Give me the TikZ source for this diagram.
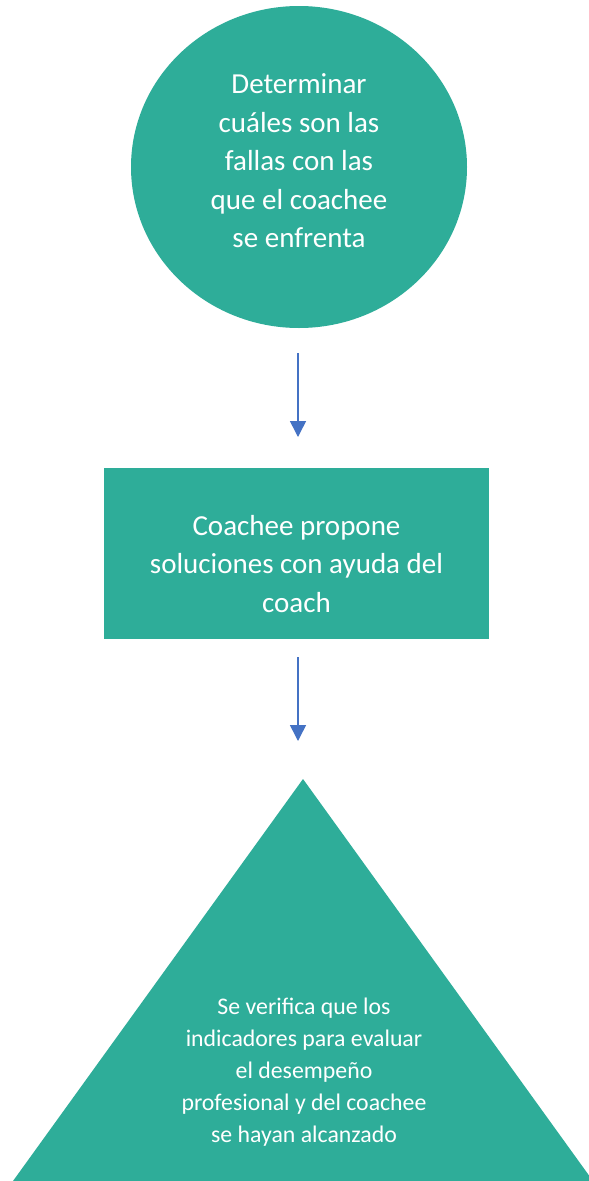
\documentclass[tikz,border=0pt]{standalone}
\usepackage{fontspec}
\setmainfont{Carlito}
\usetikzlibrary{shapes.geometric,arrows.meta}
\definecolor{teal1}{RGB}{46,173,153}
\definecolor{arrblue}{RGB}{68,114,196}
\begin{document}
\begin{tikzpicture}[x=1pt,y=-1pt,
  shapefill/.style={fill=teal1,draw=none},
  lbl/.style={text=white,align=center,inner sep=0pt},
  bigtxt/.style={font=\fontsize{29}{38.5}\selectfont},
  smalltxt/.style={font=\fontsize{23.8}{32}\selectfont},
  flowarrow/.style={draw=arrblue,line width=1.5pt,-{Triangle[width=16pt,length=16pt]}}]
\useasboundingbox (0,0) rectangle (589,1181);
\fill[white] (0,0) rectangle (589,1181);
% circle
\node[ellipse,shapefill,minimum width=336pt,minimum height=322pt,inner sep=0pt] (circ) at (299,167) {};
\node[lbl,bigtxt] (circtxt) at (299,161) {Determinar\\cuáles son las\\fallas con las\\que el coachee\\se enfrenta};
% rectangle
\node[rectangle,shapefill,minimum width=385pt,minimum height=171pt,inner sep=0pt] (rect) at (296.5,553.5) {};
\node[lbl,bigtxt] (recttxt) at (296.5,564) {Coachee propone\\soluciones con ayuda del\\coach};
% triangle
\coordinate (apex) at (303,779);
\coordinate (bl) at (13,1181);
\coordinate (br) at (593,1181);
\fill[teal1] (apex) -- (bl) -- (br) -- cycle;
\node[lbl,smalltxt] (tritxt) at (304,1072) {Se verifica que los\\indicadores para evaluar\\el desempeño\\profesional y del coachee\\se hayan alcanzado};
% arrows
\coordinate (a1s) at (298,353);
\coordinate (a1e) at (298,437);
\coordinate (a2s) at (298,657);
\coordinate (a2e) at (298,741);
\draw[flowarrow] (a1s) -- (a1e);
\draw[flowarrow] (a2s) -- (a2e);
\end{tikzpicture}
\end{document}
